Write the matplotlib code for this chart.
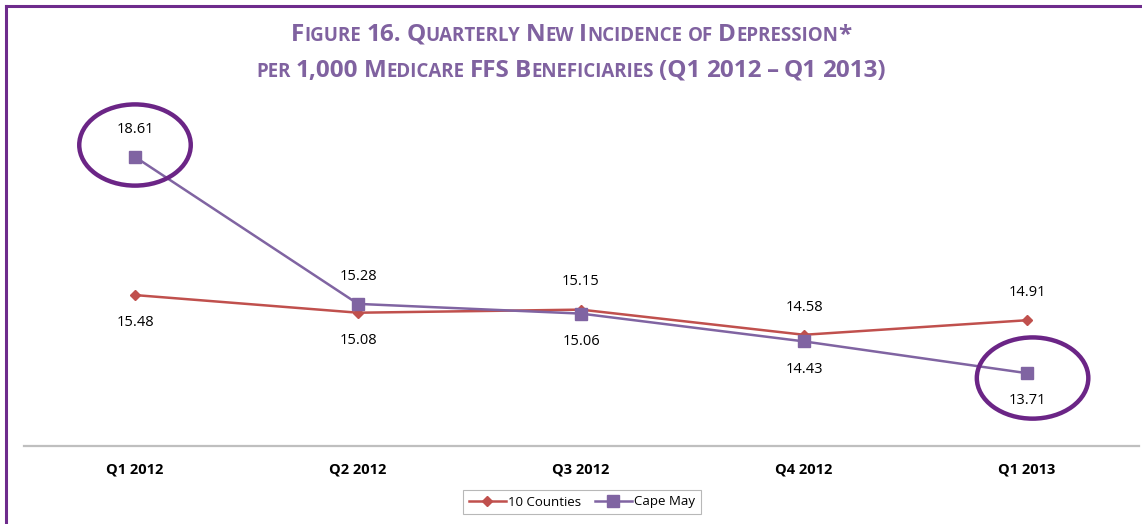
import matplotlib
matplotlib.use('Agg')
from matplotlib import pyplot as plt
from matplotlib.patches import Ellipse
from matplotlib.lines import Line2D
import numpy as np

quarters = ['Q1 2012', 'Q2 2012', 'Q3 2012', 'Q4 2012', 'Q1 2013']
counties = [15.48, 15.08, 15.15, 14.58, 14.91]
capemay = [18.61, 15.28, 15.06, 14.43, 13.71]
# label above (+1) or below (-1) the point
counties_pos = [-1, -1, 1, 1, 1]
capemay_pos = [1, 1, -1, -1, -1]
circled = [0, 4]

red = '#C0504D'
purple = '#8064A2'
dark = '#6B2586'
titlecol = '#8062A0'

W, H = 1142, 524
fig = plt.figure(figsize=(W / 100, H / 100), dpi=100)
ax = fig.add_axes([23.5 / W, 1 - 446 / H, 1115 / W, 346 / H])

x = np.arange(len(quarters))
ax.plot(x, counties, color=red, lw=1.8, marker='D', ms=5.5, label='10 Counties')
ax.plot(x, capemay, color=purple, lw=1.8, marker='s', ms=8, label='Cape May')

for xi, v, p in zip(x, counties, counties_pos):
    ax.annotate('%.2f' % v, (xi, v), xytext=(0, 20 * p), textcoords='offset points',
                ha='center', va='center', fontsize=10.5, family='Open Sans')
for xi, v, p in zip(x, capemay, capemay_pos):
    ax.annotate('%.2f' % v, (xi, v), xytext=(0, 20 * p), textcoords='offset points',
                ha='center', va='center', fontsize=10.5, family='Open Sans')

# highlight circles
for i in circled:
    off = 0.27 if capemay_pos[i] > 0 else -0.11
    dx = 0.0 if i == 0 else 0.025
    ax.add_patch(Ellipse((x[i] + dx, capemay[i] + off), 0.50, 1.84, fill=False,
                         ec=dark, lw=3.2, clip_on=False, zorder=5))

ax.set_xlim(-0.5, 4.5)
ax.set_ylim(12.06, 19.9)
ax.set_xticks(x)
ax.set_xticklabels(quarters, fontsize=10.5, fontweight='bold', family='Open Sans')
ax.tick_params(axis='x', length=0, pad=12)
ax.set_yticks([])
for s in ['top', 'right', 'left']:
    ax.spines[s].set_visible(False)
ax.spines['bottom'].set_color('#BFBFBF')
ax.spines['bottom'].set_linewidth(1.6)

leg = fig.legend(loc='center', bbox_to_anchor=(582 / W, 1 - 502 / H), ncol=2,
                 frameon=True, fancybox=False, handlelength=2.8,
                 columnspacing=1.0, handletextpad=0.2, borderpad=0.45,
                 prop={'family': 'Open Sans', 'size': 9.5})
leg.get_frame().set_edgecolor('#A6A6A6')
leg.get_frame().set_linewidth(0.8)


def small_caps(text, ycen, big, small):
    # split into runs: capitals big, lower case small capitals, spaces gaps
    runs = []
    for ch in text:
        kind = 'gap' if ch == ' ' else ('small' if ch.islower() else 'big')
        if runs and runs[-1][0] == kind and kind != 'gap':
            runs[-1][1] += ch
        else:
            runs.append([kind, ch])
    r = fig.canvas.get_renderer()
    items = []
    for kind, s in runs:
        if kind == 'gap':
            items.append((None, big * 100 / 72 * 0.22))
            continue
        t = fig.text(0, 1 - ycen / H, s.upper(), fontsize=big if kind == 'big' else small,
                     fontweight='bold', color=titlecol, family='Open Sans',
                     va='baseline', ha='left')
        items.append((t, t.get_window_extent(r).width))
    total = sum(w for _, w in items)
    pos = W / 2 - total / 2
    for t, w in items:
        if t is not None:
            t.set_x(pos / W)
        pos += w


small_caps('Figure 16. Quarterly New Incidence of Depression*', 41, 17.5, 13.5)
small_caps('per 1,000 Medicare FFS Beneficiaries (Q1 2012 \u2013 Q1 2013)', 77, 17.5, 13.5)

# page frame
fig.add_artist(Line2D([6 / W, 6 / W], [0, 1 - 6 / H], transform=fig.transFigure,
                      color='#6E2C8C', lw=2.2))
fig.add_artist(Line2D([6 / W, 1], [1 - 6 / H, 1 - 6 / H], transform=fig.transFigure,
                      color='#6E2C8C', lw=2.2))

fig.savefig('out.png', dpi=100)
